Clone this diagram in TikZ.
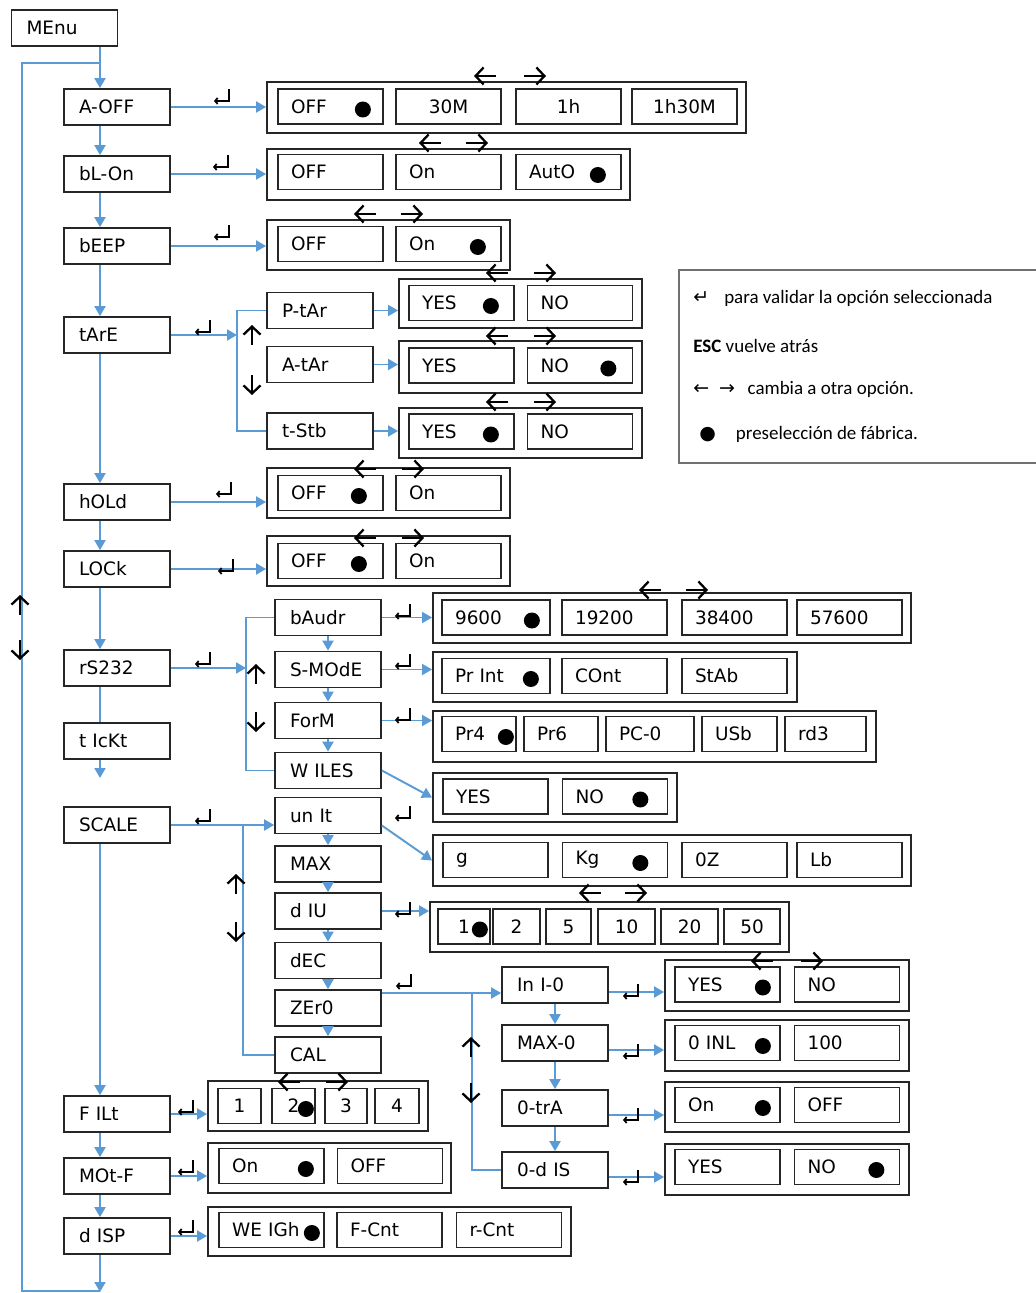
\documentclass[tikz,border=0pt]{standalone}
\usepackage{fontspec}
\setmainfont{Carlito}
\newfontfamily\lcdfont{DejaVu Sans}
\usetikzlibrary{arrows.meta,positioning}
\definecolor{dispBlue}{HTML}{5B9BD5}
\definecolor{dispInk}{HTML}{262626}
\definecolor{dispGrey}{HTML}{707070}
\tikzset{
  menubox/.style={rectangle,draw=dispInk,line width=1pt,minimum height=0.72cm,
    inner xsep=0.3cm,text width=1.52cm,align=left,font=\lcdfont\fontsize{10.5pt}{12pt}\selectfont},
  optframe/.style={rectangle,draw=dispInk,line width=1.1pt,minimum height=1cm,inner sep=0pt},
  optbox/.style={rectangle,draw=dispInk,line width=1pt,minimum height=0.7cm,
    inner xsep=0.26cm,text width=1.58cm,align=left,font=\lcdfont\fontsize{10.5pt}{12pt}\selectfont},
  optnum/.style={rectangle,draw=dispInk,line width=1pt,minimum height=0.7cm,
    minimum width=#1,inner xsep=1pt,align=center,font=\lcdfont\fontsize{10.5pt}{12pt}\selectfont},
  link/.style={draw=dispBlue,line width=1.1pt,-{Triangle[length=2mm,width=2.2mm]}},
  flowline/.style={draw=dispBlue,line width=1.1pt},
  swaptip/.style={draw=black,line width=1.3pt,-{Straight Barb[length=1.6mm,width=3.4mm]}},
  entermark/.style={draw=black,line width=1pt,-{Straight Barb[length=0.5mm,width=1.2mm]}},
  legendline/.style={anchor=west,inner sep=0pt,font=\fontsize{10.8pt}{13pt}\selectfont}
}
\newcommand\pickdot[2][22]{\fill[black] ([shift={(-#1,3)}]#2.east) circle (0.16cm);}
\newcommand\swapmark[3]{\draw[swaptip] (#1+11,#3) -- (#1-11,#3); \draw[swaptip] (#2-11,#3) -- (#2+11,#3);}
\newcommand\updownmark[3]{\draw[swaptip] (#1,#2+10) -- (#1,#2-10); \draw[swaptip] (#1,#3-10) -- (#1,#3+10);}
\newcommand\enterkey[2]{\draw[entermark] (#1+7,#2-8) -- (#1+7,#2+4) -- (#1-8,#2+4);}

\begin{document}
\begin{tikzpicture}[x=0.02cm,y=-0.02cm]
  \useasboundingbox (0,0) rectangle (1035,1293);
  \coordinate (spine) at (100,0);

  \node[menubox] (menu) at (64.5,28) {MEnu};
  \node[menubox] (aoff) at (117,107) {A-OFF};
  \node[menubox] (blon) at (117,174) {bL-On};
  \node[menubox] (beep) at (117,246) {bEEP};
  \node[menubox] (tare) at (117,335) {tArE};
  \node[menubox] (hold) at (117,502) {hOLd};
  \node[menubox] (lock) at (117,569) {LOCk};
  \node[menubox] (rs) at (117,668) {rS232};
  \node[menubox] (ticket) at (117,741) {t IcKt};
  \node[menubox] (scale) at (117,825) {SCALE};
  \node[menubox] (filt) at (117,1114) {F ILt};
  \node[menubox] (motf) at (117,1176) {MOt-F};
  \node[menubox] (disp) at (117,1236) {d ISP};

  \node[menubox] (ptar) at (320,310.5) {P-tAr};
  \node[menubox] (atar) at (320,364.5) {A-tAr};
  \node[menubox] (tstb) at (320,431) {t-Stb};
  \node[menubox] (baud) at (328,617.5) {bAudr};
  \node[menubox] (smode) at (328,669.5) {S-MOdE};
  \node[menubox] (form) at (328,720.5) {ForM};
  \node[menubox] (wiles) at (328,770.5) {W ILES};
  \node[menubox] (unit) at (328,815.5) {un It};
  \node[menubox] (maxn) at (328,864) {MAX};
  \node[menubox] (divn) at (328,911) {d IU};
  \node[menubox] (dec) at (328,960.5) {dEC};
  \node[menubox] (zero) at (328,1008) {ZEr0};
  \node[menubox] (cal) at (328,1055) {CAL};
  \node[menubox] (inio) at (555,985) {In I-0};
  \node[menubox] (maxo) at (555,1043) {MAX-0};
  \node[menubox] (otra) at (555,1108) {0-trA};
  \node[menubox] (odis) at (555,1170) {0-d IS};

  \node[optframe,minimum width=9.58cm,minimum height=1.02cm] (aoffopt) at (506.5,107.5) {};
  \node[optbox] (aoff1) at (330.5,106.5) {OFF};
  \node[optbox,align=center] (aoff2) at (448.5,106.5) {30M};
  \node[optbox,align=center] (aoff3) at (568.5,106.5) {1h};
  \node[optbox,align=center] (aoff4) at (684.5,106.5) {1h30M};
  \pickdot[21]{aoff1}
  \swapmark{485}{535}{76}

  \node[optframe,minimum width=7.26cm,minimum height=1.02cm] (blonopt) at (448.5,174.5) {};
  \node[optbox] (blon1) at (330.5,172) {OFF};
  \node[optbox] (blon2) at (448.5,172) {On};
  \node[optbox] (blon3) at (568.5,172) {AutO};
  \pickdot[24]{blon3}
  \swapmark{430}{477}{143}

  \node[optframe,minimum width=4.86cm] (beepopt) at (388.5,245) {};
  \node[optbox] (beep1) at (330.5,244) {OFF};
  \node[optbox] (beep2) at (448.5,244) {On};
  \pickdot[24]{beep2}
  \swapmark{365}{412}{214}

  \node[optframe,minimum width=4.86cm,minimum height=0.98cm] (ptaropt) at (520.5,303.5) {};
  \node[optbox] (ptar1) at (461.5,303) {YES};
  \node[optbox] (ptar2) at (580,303) {NO};
  \pickdot[24]{ptar1}
  \swapmark{497}{545}{273}

  \node[optframe,minimum width=4.86cm,minimum height=1.04cm] (ataropt) at (520.5,367) {};
  \node[optbox] (atar1) at (461.5,365.5) {YES};
  \node[optbox] (atar2) at (580,365.5) {NO};
  \pickdot[25]{atar2}
  \swapmark{497}{545}{336}

  \node[optframe,minimum width=4.86cm] (tstbopt) at (520.5,433) {};
  \node[optbox] (tstb1) at (461.5,431.5) {YES};
  \node[optbox] (tstb2) at (580,431.5) {NO};
  \pickdot[24]{tstb1}
  \swapmark{497}{545}{402}

  \node[optframe,minimum width=4.86cm] (holdopt) at (388.5,493) {};
  \node[optbox] (hold1) at (330.5,493) {OFF};
  \node[optbox] (hold2) at (448.5,493) {On};
  \pickdot[25]{hold1}
  \swapmark{365}{413}{469}

  \node[optframe,minimum width=4.86cm] (lockopt) at (388.5,561) {};
  \node[optbox] (lock1) at (330.5,561) {OFF};
  \node[optbox] (lock2) at (448.5,561) {On};
  \pickdot[25]{lock1}
  \swapmark{365}{413}{538}

  \node[optframe,minimum width=9.56cm] (baudopt) at (672,618) {};
  \node[optbox,text width=1.64cm] (baud1) at (496,617.5) {9600};
  \node[optbox] (baud2) at (614.5,617.5) {19200};
  \node[optbox] (baud3) at (734.5,617.5) {38400};
  \node[optbox] (baud4) at (849.5,617.5) {57600};
  \pickdot[19]{baud1}
  \swapmark{650}{697}{590}

  \node[optframe,minimum width=7.28cm] (smodeopt) at (615,677) {};
  \node[optbox,text width=1.64cm] (smode1) at (496,676) {Pr Int};
  \node[optbox] (smode2) at (614.5,676) {COnt};
  \node[optbox] (smode3) at (734.5,676) {StAb};
  \pickdot[20]{smode1}

  \node[optframe,minimum width=8.86cm,minimum height=1.02cm] (formopt) at (654.5,736.5) {};
  \node[optbox,text width=0.96cm] (form1) at (479,734) {Pr4};
  \node[optbox,text width=0.96cm] (form2) at (561,734) {Pr6};
  \node[optbox,text width=1.24cm] (form3) at (650,734) {PC-0};
  \node[optbox,text width=0.98cm] (form4) at (739.5,734) {USb};
  \node[optbox,text width=1.1cm] (form5) at (825.5,734) {rd3};
  \pickdot[11]{form1}

  \node[optframe,minimum width=4.88cm,minimum height=0.98cm] (wilesopt) at (555,797.5) {};
  \node[optbox] (wiles1) at (495.5,796.5) {YES};
  \node[optbox] (wiles2) at (615,796.5) {NO};
  \pickdot[28]{wiles2}

  \node[optframe,minimum width=9.56cm,minimum height=1.02cm] (unitopt) at (672,860.5) {};
  \node[optbox] (unit1) at (495.5,860) {g};
  \node[optbox] (unit2) at (615,860) {Kg};
  \node[optbox] (unit3) at (734.5,860) {0Z};
  \node[optbox] (unit4) at (849.5,860) {Lb};
  \pickdot[28]{unit2}

  \node[optframe,minimum width=7.18cm] (divnopt) at (609.5,927) {};
  \node[optnum=1.04cm] (divn1) at (464,926.5) {1};
  \node[optnum=0.94cm] (divn2) at (516.5,926.5) {2};
  \node[optnum=0.9cm] (divn3) at (568.5,926.5) {5};
  \node[optnum=1.14cm] (divn4) at (626.5,926.5) {10};
  \node[optnum=1.14cm] (divn5) at (689.5,926.5) {20};
  \node[optnum=1.12cm] (divn6) at (752,926.5) {50};
  \pickdot[11]{divn1}
  \swapmark{590}{636}{893}

  \node[optframe,minimum width=4.88cm,minimum height=1.02cm] (inioopt) at (787,985.5) {};
  \node[optbox] (inio1) at (727.5,984.5) {YES};
  \node[optbox] (inio2) at (847,984.5) {NO};
  \pickdot[18]{inio1}
  \swapmark{762}{812}{961}

  \node[optframe,minimum width=4.88cm,minimum height=1.02cm] (maxoopt) at (787,1045.5) {};
  \node[optbox] (maxo1) at (727.5,1043) {0 INL};
  \node[optbox] (maxo2) at (847,1043) {100};
  \pickdot[18]{maxo1}

  \node[optframe,minimum width=4.88cm] (otraopt) at (787,1107) {};
  \node[optbox] (otra1) at (727.5,1105) {On};
  \node[optbox] (otra2) at (847,1105) {OFF};
  \pickdot[18]{otra1}

  \node[optframe,minimum width=4.88cm,minimum height=1.02cm] (odisopt) at (787,1169.5) {};
  \node[optbox] (odis1) at (727.5,1167) {YES};
  \node[optbox] (odis2) at (847,1167) {NO};
  \pickdot[24]{odis2}

  \node[optframe,minimum width=4.4cm] (filtopt) at (318,1106) {};
  \node[optnum=0.86cm] (filt1) at (239.5,1106) {1};
  \node[optnum=0.86cm] (filt2) at (293.5,1106) {2};
  \node[optnum=0.84cm] (filt3) at (346,1106) {3};
  \node[optnum=0.88cm] (filt4) at (397,1106) {4};
  \pickdot[10]{filt2}
  \swapmark{289}{337}{1082}

  \node[optframe,minimum width=4.86cm] (motfopt) at (329.5,1168) {};
  \node[optbox] (motf1) at (271.5,1166) {On};
  \node[optbox] (motf2) at (390,1166) {OFF};
  \pickdot[19]{motf1}

  \node[optframe,minimum width=7.26cm,minimum height=0.98cm] (dispopt) at (389.5,1231.5) {};
  \node[optbox] (disp1) at (271.5,1230) {WE IGh};
  \node[optbox] (disp2) at (389.5,1230) {F-Cnt};
  \node[optbox] (disp3) at (509,1230) {r-Cnt};
  \pickdot[13]{disp1}

  \coordinate (looptop) at (100,63);
  \coordinate (loopcorner) at (22,63);
  \coordinate (loopbase) at (22,1291);
  \coordinate (loopend) at (100,1292);
  \coordinate (ticketend) at (100,778);
  \coordinate (tarejoin) at (237,335);
  \coordinate (rsjoin) at (246,668);
  \coordinate (scalejoin) at (243,825);
  \coordinate (zerojoin) at (472,993);

  \draw[link] (menu.south -| spine) -- (aoff.north -| spine);
  \foreach \a/\b in {aoff/blon,blon/beep,beep/tare,tare/hold,hold/lock,lock/rs,scale/filt,filt/motf,motf/disp}
    \draw[link] (\a.south -| spine) -- (\b.north -| spine);
  \draw[flowline] (rs.south -| spine) -- (ticket.north -| spine);
  \draw[link] (ticket.south -| spine) -- (ticketend);
  \draw[link] (disp.south -| spine) -- (loopend);
  \draw[flowline] (looptop) -- (loopcorner) -- (loopbase) -- (loopbase -| spine);
  \updownmark{20}{605}{650}

  \foreach \a/\b in {aoff/aoffopt,blon/blonopt,beep/beepopt,hold/holdopt,lock/lockopt,filt/filtopt,motf/motfopt,disp/dispopt}
    \draw[link] (\a.east) -- (\a.east -| \b.west);

  \draw[link] (tare.east) -- (tarejoin);
  \draw[flowline] (ptar.west) -- (ptar.west -| tarejoin) -- (tstb.west -| tarejoin) -- (tstb.west);
  \updownmark{252}{335}{385}

  \draw[link] (rs.east) -- (rsjoin);
  \draw[flowline] (baud.west) -- (baud.west -| rsjoin) -- (wiles.west -| rsjoin) -- (wiles.west);
  \updownmark{256}{674}{722}

  \draw[link] (scale.east) -- (scale.east -| unit.west);
  \draw[flowline] (scalejoin) |- (cal.west);
  \updownmark{236}{884}{932}

  \draw[link] (zero.east |- zerojoin) -- (zerojoin -| inio.west);
  \draw[flowline] (zerojoin) |- (odis.west);
  \updownmark{471}{1047}{1093}

  \foreach \a/\b in {ptar/ptaropt,atar/ataropt,tstb/tstbopt,baud/baudopt,smode/smodeopt,form/formopt,divn/divnopt}
    \draw[link] (\a.east) -- (\a.east -| \b.west);
  \draw[link] (wiles.east) -- (wilesopt.west);
  \draw[link] ([yshift=-0.2cm]unit.east) -- (unitopt.west);
  \foreach \a/\b in {inio/inioopt,maxo/maxoopt,otra/otraopt,odis/odisopt}
    \draw[link] ([yshift=-0.14cm]\a.east) -- ([yshift=-0.14cm]\a.east -| \b.west);

  \foreach \a/\b in {baud/smode,smode/form,form/wiles,unit/maxn,maxn/divn,divn/dec,dec/zero,zero/cal,inio/maxo,maxo/otra,otra/odis}
    \draw[link] (\a) -- (\b);

  \enterkey{222}{97}
  \enterkey{221}{163}
  \enterkey{222}{233}
  \enterkey{203}{328}
  \enterkey{224}{490}
  \enterkey{226}{567}
  \enterkey{203}{660}
  \enterkey{203}{817}
  \enterkey{186}{1108}
  \enterkey{186}{1168}
  \enterkey{186}{1228}
  \enterkey{403}{612}
  \enterkey{403}{662}
  \enterkey{403}{716}
  \enterkey{403}{814}
  \enterkey{403}{910}
  \enterkey{404}{982}
  \enterkey{631}{992}
  \enterkey{631}{1052}
  \enterkey{631}{1116}
  \enterkey{631}{1178}

  \node[draw=dispGrey,line width=0.8pt,minimum width=7.3cm,minimum height=3.86cm,inner sep=0pt] (legend) at (861.5,366.5) {};
  \node[legendline] (leg1) at (693,298) {{\lcdfont ↵}\hspace{0.3cm}para validar la opción seleccionada};
  \node[legendline] (leg2) at (693,346) {\textbf{ESC} vuelve atrás};
  \node[legendline] (leg3) at (693,389) {{\lcdfont ←\hspace{0.2cm}→}\hspace{0.25cm}cambia a otra opción.};
  \node[legendline] (leg4) at (699,434) {{\lcdfont ●}\hspace{0.4cm}preselección de fábrica.};
\end{tikzpicture}
\end{document}
